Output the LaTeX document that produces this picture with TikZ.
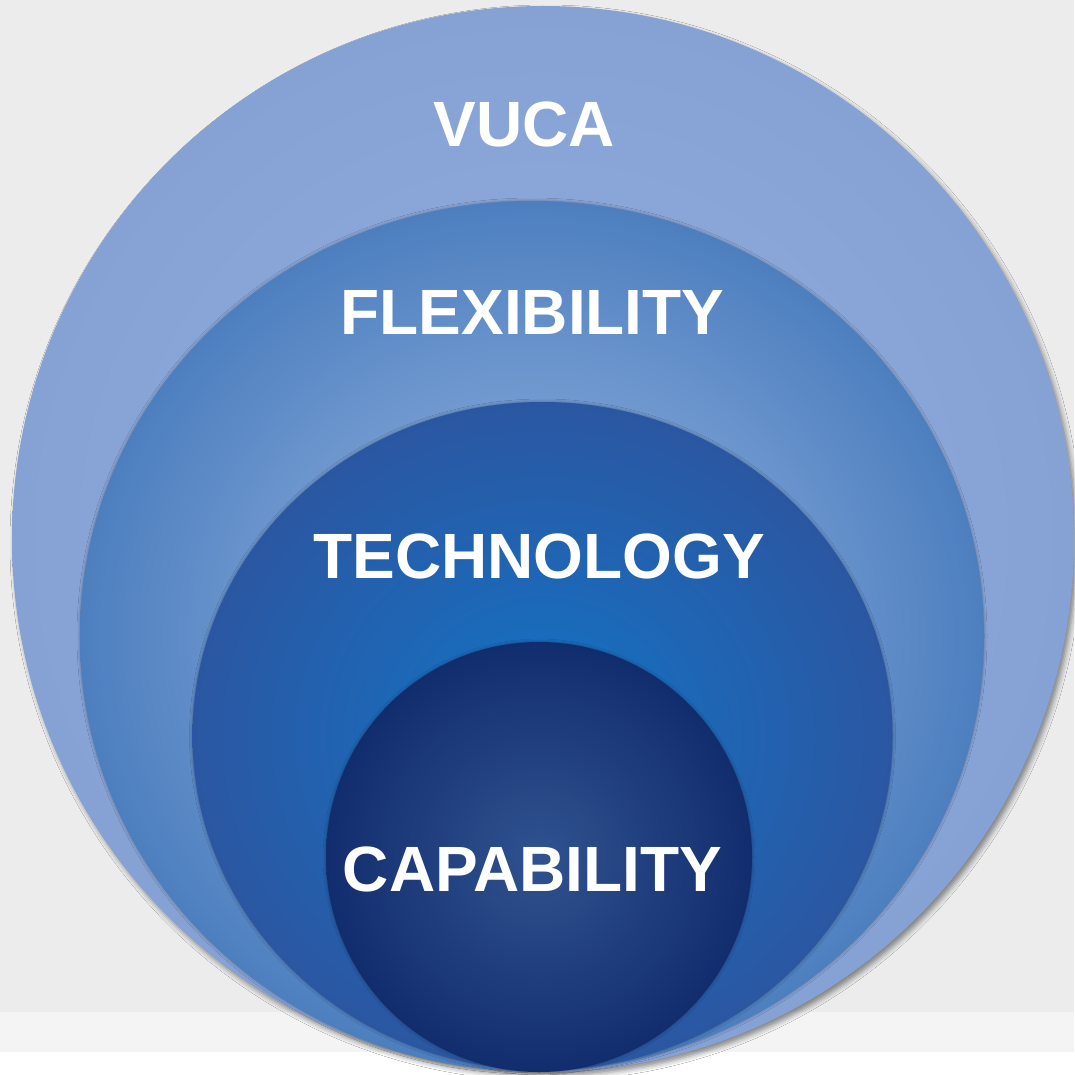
\documentclass[tikz,border=0pt]{standalone}
\usepackage{fontspec}
\newfontfamily\arialfont{Liberation Sans}
\usetikzlibrary{shadows.blur}

\definecolor{bgGray}{RGB}{236,236,236}
\definecolor{bgLight}{RGB}{244,244,244}
\definecolor{vucaIn}{RGB}{146,173,221}
\definecolor{vucaOut}{RGB}{134,162,213}
\definecolor{flexIn}{RGB}{157,185,228}
\definecolor{flexOut}{RGB}{77,127,191}
\definecolor{techIn}{RGB}{18,116,198}
\definecolor{techOut}{RGB}{43,87,162}
\definecolor{capIn}{RGB}{48,82,143}
\definecolor{capOut}{RGB}{18,45,110}

\begin{document}
\begin{tikzpicture}[x=1pt,y=1pt,yscale=-1,xscale=1,
    lbl/.style={font=\arialfont\bfseries\fontsize{64}{64}\selectfont, text=white, anchor=base, inner sep=0pt},
    rim/.style={blur shadow={shadow xshift=0pt, shadow yshift=0pt, shadow blur radius=3pt, shadow opacity=35}}]
        \useasboundingbox (0,0) rectangle (1074,1075);

        %Background
        \fill [bgGray] (0,0) rectangle (1074,1012);
        \fill [bgLight] (0,1012) rectangle (1074,1052);
        \fill [white] (0,1052) rectangle (1074,1075);

        %Ellipse VUCA
        \shade [inner color=vucaIn, outer color=vucaOut, blur shadow={shadow xshift=3pt, shadow yshift=-4pt, shadow blur radius=5pt, shadow opacity=45}] (543,539) ellipse (531 and 533);
        %Ellipse FLEXIBILITY
        \shade [inner color=flexIn, outer color=flexOut, rim] (532,636) ellipse (452 and 435);
        %Ellipse TECHNOLOGY
        \shade [inner color=techIn, outer color=techOut, rim] (542.5,736) ellipse (350 and 334);
        %Ellipse CAPABILITY
        \shade [inner color=capIn, outer color=capOut, rim] (539,857) ellipse (213 and 215);

        % Text Node
        \draw (524,147) node (vuca) [lbl] {VUCA};
        % Text Node
        \draw (532.5,334) node (flex) [lbl] {FLEXIBILITY};
        % Text Node
        \draw (539,578) node (tech) [lbl] {TECHNOLOGY};
        % Text Node
        \draw (532.5,891) node (cap) [lbl] {CAPABILITY};
    \end{tikzpicture}
\end{document}
